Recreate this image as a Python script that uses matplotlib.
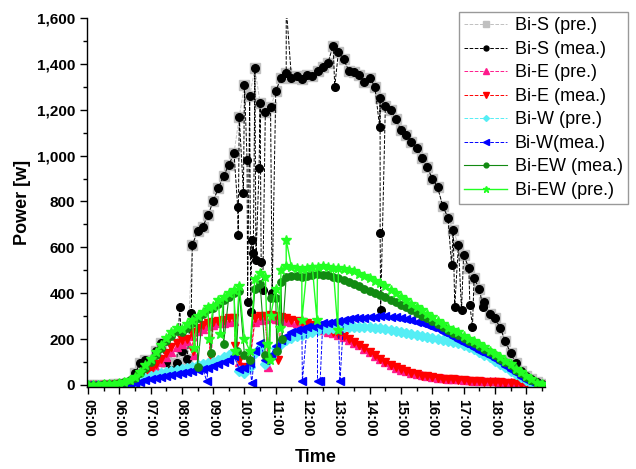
import numpy as np
import matplotlib
matplotlib.use('Agg')
import matplotlib.pyplot as plt
from matplotlib.ticker import FuncFormatter, MultipleLocator

plt.rcParams['font.family'] = ['Liberation Sans', 'DejaVu Sans']

# 10-minute grid, 05:00 .. 19:30 (88 readings per series)
grid_start = '05:00'

bi_s_mea = [0, 0, 0, 0, 0, 2,
            3, 5, 10, 50, 95, 110,
            80, 150, 185, 100, 65, 95,
            150, 115, 610, 670, 690, 740,
            800, 860, 910, 960, 1010, 1170,
            1310, 1260, 1380, 1230, 1190, 1210,
            1280, 1340, 1360, 1340, 1345, 1335,
            1350, 1345, 1370, 1385, 1405, 1480,
            1450, 1420, 1370, 1365, 1350, 1320,
            1340, 1300, 1250, 1215, 1200, 1160,
            1110, 1090, 1060, 1035, 990, 950,
            900, 863, 780, 730, 676, 610,
            567, 510, 465, 420, 360, 310,
            290, 250, 190, 140, 95, 60,
            40, 25, 12, 3]
bi_s_pre = list(bi_s_mea)  # prediction sits right under the measurement

bi_e_pre = [0, 0, 0, 0, 0, 0,
            2, 4, 8, 15, 28, 42,
            55, 75, 100, 120, 145, 165,
            180, 190, 215, 235, 245, 255,
            262, 268, 272, 276, 278, 100,
            70, 90, 275, 285, 288, 290,
            288, 284, 280, 276, 272, 266,
            260, 252, 244, 238, 232, 225,
            218, 208, 197, 185, 172, 158,
            143, 128, 113, 98, 86, 76,
            67, 59, 52, 46, 42, 38,
            35, 32, 30, 28, 26, 24,
            22, 20, 19, 18, 17, 16,
            15, 14, 13, 11, 9, 7,
            5, 3, 1, 0]
bi_e_mea = [0, 0, 0, 0, 0, 0,
            2, 5, 10, 20, 35, 50,
            65, 90, 115, 140, 165, 185,
            195, 200, 230, 250, 260, 270,
            275, 280, 285, 290, 290, 110,
            80, 100, 290, 300, 300, 305,
            300, 295, 290, 285, 280, 275,
            270, 260, 250, 245, 238, 230,
            222, 212, 200, 188, 175, 160,
            145, 130, 115, 100, 88, 78,
            68, 60, 52, 46, 41, 37,
            34, 31, 28, 26, 24, 22,
            20, 18, 16, 15, 14, 13,
            12, 11, 10, 9, 8, 6,
            4, 2, 1, 0]
bi_w_pre = [0, 0, 0, 0, 0, 0,
            2, 5, 10, 15, 22, 30,
            38, 45, 50, 55, 60, 65,
            70, 75, 80, 85, 90, 95,
            100, 110, 120, 130, 140, 60,
            50, 80, 140, 160, 90, 120,
            160, 180, 195, 205, 212, 218,
            225, 232, 238, 242, 246, 248,
            250, 252, 253, 254, 254, 253,
            252, 250, 248, 245, 240, 235,
            230, 226, 222, 218, 214, 210,
            205, 200, 196, 192, 187, 182,
            175, 165, 155, 145, 132, 120,
            105, 92, 78, 62, 48, 34,
            20, 10, 4, 0]
bi_w_mea = [0, 0, 0, 0, 0, 0,
            1, 3, 5, 9, 14, 20,
            28, 32, 35, 38, 42, 47,
            52, 56, 60, 65, 70, 75,
            82, 90, 100, 110, 125, 70,
            75, 95, 150, 185, 110, 130,
            170, 195, 215, 230, 240, 245,
            252, 258, 262, 268, 272, 275,
            280, 283, 286, 290, 292, 294,
            296, 298, 300, 300, 298, 296,
            292, 288, 283, 276, 268, 260,
            252, 242, 232, 222, 210, 198,
            185, 175, 162, 150, 138, 125,
            112, 98, 82, 66, 50, 35,
            22, 12, 5, 0]
bi_ew_mea = [0, 0, 1, 2, 3, 5,
             7, 12, 20, 32, 50, 75,
             100, 130, 160, 190, 215, 235,
             230, 250, 270, 290, 310, 330,
             335, 355, 370, 385, 400, 410,
             130, 110, 420, 440, 130, 380,
             380, 450, 470, 475, 475, 470,
             475, 480, 485, 480, 478, 472,
             465, 458, 450, 440, 430, 420,
             410, 400, 392, 382, 372, 360,
             350, 338, 325, 312, 300, 290,
             278, 265, 252, 240, 228, 218,
             205, 193, 182, 170, 158, 145,
             130, 115, 100, 85, 65, 50,
             35, 22, 10, 2]
bi_ew_pre = [0, 0, 1, 2, 3, 5,
             8, 14, 22, 35, 55, 85,
             115, 145, 175, 205, 230, 250,
             245, 265, 285, 300, 320, 340,
             345, 370, 385, 400, 415, 430,
             200, 150, 460, 490, 470, 300,
             420, 500, 520, 515, 510, 505,
             510, 515, 515, 520, 515, 510,
             510, 505, 500, 495, 485, 475,
             465, 455, 445, 430, 415, 400,
             385, 370, 355, 340, 325, 310,
             295, 280, 265, 250, 240, 230,
             215, 200, 190, 180, 165, 150,
             135, 120, 105, 90, 70, 55,
             40, 25, 10, 2]

# single readings that fall out of the curves (time, value)
s_mea_drops = [('07:56', 340), ('08:18', 314), ('09:47', 776), ('09:48', 654),
               ('09:58', 837), ('10:05', 981), ('10:06', 362), ('10:12', 318),
               ('10:14', 632), ('10:17', 575), ('10:22', 545), ('10:28', 946),
               ('10:32', 536), ('10:35', 414), ('10:53', 400), ('11:20', 1650),
               ('12:53', 1300), ('14:19', 1125), ('14:20', 663), ('14:21', 327),
               ('16:37', 523), ('16:43', 340), ('16:56', 327), ('17:12', 349),
               ('17:17', 253), ('17:37', 340)]
e_pre_drops = [('08:23', 130), ('08:56', 100), ('10:46', 80)]
e_mea_drops = [('08:22', 150), ('08:55', 120), ('09:42', 170), ('10:45', 100), ('11:05', 110)]
w_mea_drops = [('08:48', 15), ('10:14', 8), ('11:51', 18), ('12:20', 15), ('12:25', 15), ('13:03', 15)]
ew_mea_drops = [('08:30', 80), ('08:56', 140), ('09:20', 180), ('09:45', 150),
                ('10:46', 120), ('11:02', 150), ('11:12', 200)]
ew_pre_drops = [('08:24', 160), ('08:52', 200), ('09:14', 220), ('09:42', 150),
                ('10:44', 180), ('10:48', 110), ('11:08', 250), ('11:50', 283),
                ('12:19', 283), ('12:59', 240), ('11:20', 632)]

hour_ticks = list(range(5, 20))


def to_hours(s):
    h, m = s.split(':')
    return int(h) + int(m) / 60


def series(values, drops=()):
    t0 = to_hours(grid_start)
    t = [t0 + i / 6 for i in range(len(values))]
    pts = list(zip(t, values)) + [(to_hours(a), b) for a, b in drops]
    pts.sort(key=lambda p: p[0])
    return [p[0] for p in pts], [p[1] for p in pts]


fig = plt.figure(figsize=(6.36, 4.69), dpi=100)
ax = fig.add_axes([87 / 636, 1 - 387 / 469, (545 - 87) / 636, (387 - 18) / 469])

styles = [
    ('Bi-S (pre.)', bi_s_pre, (), dict(color='#c0c0c0', marker='s', ms=7, ls='--', lw=0.7)),
    ('Bi-S (mea.)', bi_s_mea, s_mea_drops, dict(color='black', marker='o', ms=5.5, ls='--', lw=0.7)),
    ('Bi-E (pre.)', bi_e_pre, e_pre_drops, dict(color='#ff1a8c', marker='^', ms=5.6, ls='--', lw=0.7)),
    ('Bi-E (mea.)', bi_e_mea, e_mea_drops, dict(color='#ff0000', marker='v', ms=5.6, ls='--', lw=0.7)),
    ('Bi-W (pre.)', bi_w_pre, (), dict(color='#55eef5', marker='D', ms=4.6, ls='--', lw=0.7)),
    ('Bi-W(mea.)', bi_w_mea, w_mea_drops, dict(color='#0000ff', marker='<', ms=5.6, ls='--', lw=0.7)),
    ('Bi-EW (mea.)', bi_ew_mea, ew_mea_drops, dict(color='#128a12', marker='o', ms=5.3, ls='-', lw=0.8)),
    ('Bi-EW (pre.)', bi_ew_pre, ew_pre_drops, dict(color='#22ff22', marker='*', ms=7, ls='-', lw=1.0)),
]
for label, vals, drops, kw in styles:
    t, v = series(vals, drops)
    ax.plot(t, v, label=label, mec=kw['color'], **kw)

ax.set_xlim(4.97, 19.6)
ax.set_ylim(-9, 1600)

ax.set_xticks(hour_ticks)
ax.set_xticklabels([f'{h:02d}:00' for h in hour_ticks], rotation=270, fontsize=10.5, fontweight='bold')
ax.xaxis.set_minor_locator(MultipleLocator(0.5))
ax.yaxis.set_major_locator(MultipleLocator(200))
ax.yaxis.set_minor_locator(MultipleLocator(100))
ax.yaxis.set_major_formatter(FuncFormatter(lambda v, p: f'{int(v):,}'))
for lab in ax.get_yticklabels():
    lab.set_fontweight('bold')
    lab.set_fontsize(11)
ax.tick_params(which='major', direction='out', length=5, width=1)
ax.tick_params(which='minor', direction='out', length=3, width=1)
ax.tick_params(axis='y', labelsize=11)

for side in ('top', 'right'):
    ax.spines[side].set_visible(False)
for side in ('left', 'bottom'):
    ax.spines[side].set_linewidth(1)

ax.set_xlabel('Time', fontsize=13, fontweight='bold', labelpad=9)
ax.set_ylabel('Power [w]', fontsize=13, fontweight='bold', labelpad=4)

leg = ax.legend(loc='upper right', bbox_to_anchor=(628 / 636, 1 - 12 / 469),
                bbox_transform=fig.transFigure, fontsize=13, frameon=True,
                fancybox=False, edgecolor='#808080', borderaxespad=0,
                handlelength=2.4, labelspacing=0.36, borderpad=0.3,
                handletextpad=0.4, markerscale=0.65)
leg.get_frame().set_linewidth(1)

fig.savefig('out.png', dpi=100)
